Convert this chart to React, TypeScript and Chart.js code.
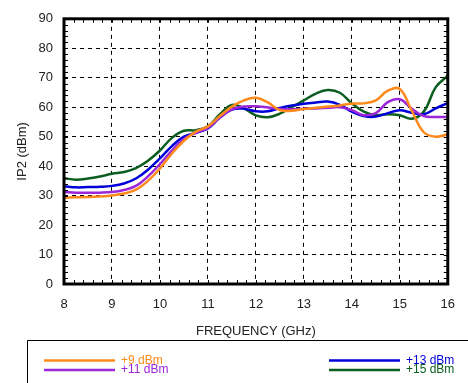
import { useEffect, useRef } from "react";
import { Chart, registerables } from "chart.js";

Chart.register(...registerables);

const frequencyGHz = [
  8, 8.25, 8.5, 8.75, 9, 9.25, 9.5, 9.75, 10, 10.25, 10.5, 10.75, 11, 11.25, 11.5, 11.75,
  12, 12.25, 12.5, 12.75, 13, 13.25, 13.5, 13.75, 14, 14.25, 14.5, 14.75, 15, 15.25, 15.5,
  15.75, 16,
];

const ip2Plus9 = [
  29.3, 29.4, 29.5, 29.7, 30.0, 30.7, 32.0, 35.0, 39.2, 44.3, 48.6, 51.7, 53.5, 57.0, 60.2,
  62.3, 63.2, 61.6, 59.0, 58.8, 59.4, 59.8, 60.2, 60.6, 61.2, 61.3, 62.3, 65.6, 66.2, 58.8,
  51.5, 50.0, 50.8,
];

const ip2Plus11 = [
  31.2, 31.0, 31.0, 31.0, 31.2, 31.9, 33.3, 36.5, 40.7, 45.3, 49.2, 51.3, 53.0, 56.5, 59.3,
  60.2, 60.3, 59.9, 59.4, 59.3, 59.5, 59.6, 59.8, 60.0, 59.0, 57.3, 58.0, 61.7, 62.7, 59.5,
  57.0, 56.7, 56.7,
];

const ip2Plus13 = [
  33.2, 32.8, 32.9, 33.0, 33.3, 34.1, 35.8, 38.8, 42.6, 46.8, 50.0, 51.3, 52.8, 56.5, 59.2,
  59.5, 58.6, 58.6, 59.7, 60.6, 61.2, 61.6, 61.9, 60.8, 58.5, 57.0, 56.8, 58.0, 59.0, 58.1,
  57.6, 59.6, 61.4,
];

const ip2Plus15 = [
  35.9, 35.4, 35.8, 36.5, 37.4, 38.0, 39.3, 41.8, 45.3, 49.6, 52.0, 52.2, 53.5, 57.6, 60.8,
  59.6, 57.2, 56.6, 57.8, 60.0, 62.3, 64.6, 65.8, 64.9, 61.3, 58.5, 57.3, 57.6, 57.3, 56.1,
  58.5, 66.8, 70.7,
];

const seriesLabels = ["+9 dBm", "+11 dBm", "+13 dBm", "+15 dBm"];
const seriesValues = [ip2Plus9, ip2Plus11, ip2Plus13, ip2Plus15];
const seriesColors = ["#ff8a1c", "#9b27d8", "#0000d8", "#0b5e1f"];

const xMin = 8;
const xMax = 16;
const xStep = 1;
const xMinorStep = 0.2;
const yMin = 0;
const yMax = 90;
const yStep = 10;
const yMinorStep = 2;

const FONT = "'Liberation Sans', Arial, Helvetica, sans-serif";
const TEXT = "#222222";

const framePlugin = {
  id: "frame",
  afterDatasetsDraw(chart: any) {
    const { ctx, chartArea, scales } = chart;
    const { left, right, top, bottom } = chartArea;
    const x = scales.x;
    const y = scales.y;
    ctx.save();
    ctx.strokeStyle = "#000";
    ctx.lineWidth = 1;
    ctx.beginPath();
    for (let v = yMin; v <= yMax + 1e-6; v += yMinorStep) {
      const py = Math.round(y.getPixelForValue(v)) + 0.5;
      ctx.moveTo(left, py);
      ctx.lineTo(left + 4, py);
      ctx.moveTo(right, py);
      ctx.lineTo(right - 4, py);
    }
    for (let v = xMin; v <= xMax + 1e-6; v += xMinorStep) {
      const px = Math.round(x.getPixelForValue(v)) + 0.5;
      ctx.moveTo(px, bottom);
      ctx.lineTo(px, bottom - 4);
      ctx.moveTo(px, top);
      ctx.lineTo(px, top + 4);
    }
    ctx.stroke();
    ctx.lineWidth = 3;
    ctx.strokeRect(left, top, right - left, bottom - top);
    ctx.restore();
  },
};

const legendPlugin = {
  id: "boxLegend",
  afterDraw(chart: any) {
    const { ctx } = chart;
    ctx.save();
    ctx.strokeStyle = "#000";
    ctx.lineWidth = 1;
    ctx.beginPath();
    ctx.moveTo(27.5, 390);
    ctx.lineTo(27.5, 340.5);
    ctx.lineTo(470, 340.5);
    ctx.stroke();
    const colX = [44, 329];
    const rowY = [360.5, 370];
    ctx.font = `12px ${FONT}`;
    ctx.textBaseline = "middle";
    ctx.textAlign = "left";
    chart.data.datasets.forEach((ds: any, i: number) => {
      const cx = colX[Math.floor(i / 2)];
      const cy = rowY[i % 2];
      ctx.strokeStyle = ds.borderColor;
      ctx.lineWidth = 2.5;
      ctx.beginPath();
      ctx.moveTo(cx, cy);
      ctx.lineTo(cx + 71, cy);
      ctx.stroke();
      ctx.fillStyle = ds.borderColor;
      ctx.fillText(ds.label, cx + 77, cy);
    });
    ctx.restore();
  },
};

export default function App() {
  const canvasRef = useRef<HTMLCanvasElement | null>(null);

  useEffect(() => {
    document.body.style.margin = "0";
    const canvas = canvasRef.current;
    if (!canvas) return;
    const datasets = seriesValues.map((vals, i) => ({
      label: seriesLabels[i],
      data: frequencyGHz.map((f, j) => ({ x: f, y: vals[j] })),
      borderColor: seriesColors[i],
      backgroundColor: seriesColors[i],
      borderWidth: 2.5,
      pointRadius: 0,
      tension: 0.4,
      fill: false,
    }));
    const chart = new Chart(canvas, {
      type: "line",
      data: { datasets },
      plugins: [framePlugin, legendPlugin],
      options: {
        responsive: false,
        animation: false,
        layout: { padding: { top: 15, right: 13, left: 0, bottom: 43 } },
        plugins: {
          legend: { display: false },
          tooltip: { enabled: false },
          title: { display: false },
        },
        scales: {
          x: {
            type: "linear",
            min: xMin,
            max: xMax,
            border: { display: false, dash: [4, 4] },
            grid: {
              color: (c: any) =>
                c.tick && (c.tick.value === xMin || c.tick.value === xMax) ? "rgba(0,0,0,0)" : "#000",
              lineWidth: 1,
              drawTicks: false,
            },
            ticks: {
              stepSize: xStep,
              padding: 13,
              color: TEXT,
              font: { family: FONT, size: 13 },
              maxRotation: 0,
            },
            title: {
              display: true,
              text: "FREQUENCY (GHz)",
              color: TEXT,
              font: { family: FONT, size: 13 },
              padding: { top: 0, bottom: 1 },
            },
            afterFit: (s: any) => {
              s.height = 56;
            },
          },
          y: {
            min: yMin,
            max: yMax,
            border: { display: false, dash: [4, 4] },
            grid: {
              color: (c: any) =>
                c.tick && (c.tick.value === yMin || c.tick.value === yMax) ? "rgba(0,0,0,0)" : "#000",
              lineWidth: 1,
              drawTicks: false,
            },
            ticks: {
              stepSize: yStep,
              padding: 11,
              color: TEXT,
              font: { family: FONT, size: 13 },
            },
            title: {
              display: true,
              text: "IP2 (dBm)",
              color: TEXT,
              font: { family: FONT, size: 13 },
              padding: { top: 15, bottom: 0 },
            },
            afterFit: (s: any) => {
              s.width = 64;
            },
          },
        },
      },
    });
    return () => chart.destroy();
  }, []);

  return (
    <div style={{ position: "fixed", left: 0, top: 0, width: 468, height: 383, background: "#fff" }}>
      <canvas ref={canvasRef} width={468} height={383} />
    </div>
  );
}
